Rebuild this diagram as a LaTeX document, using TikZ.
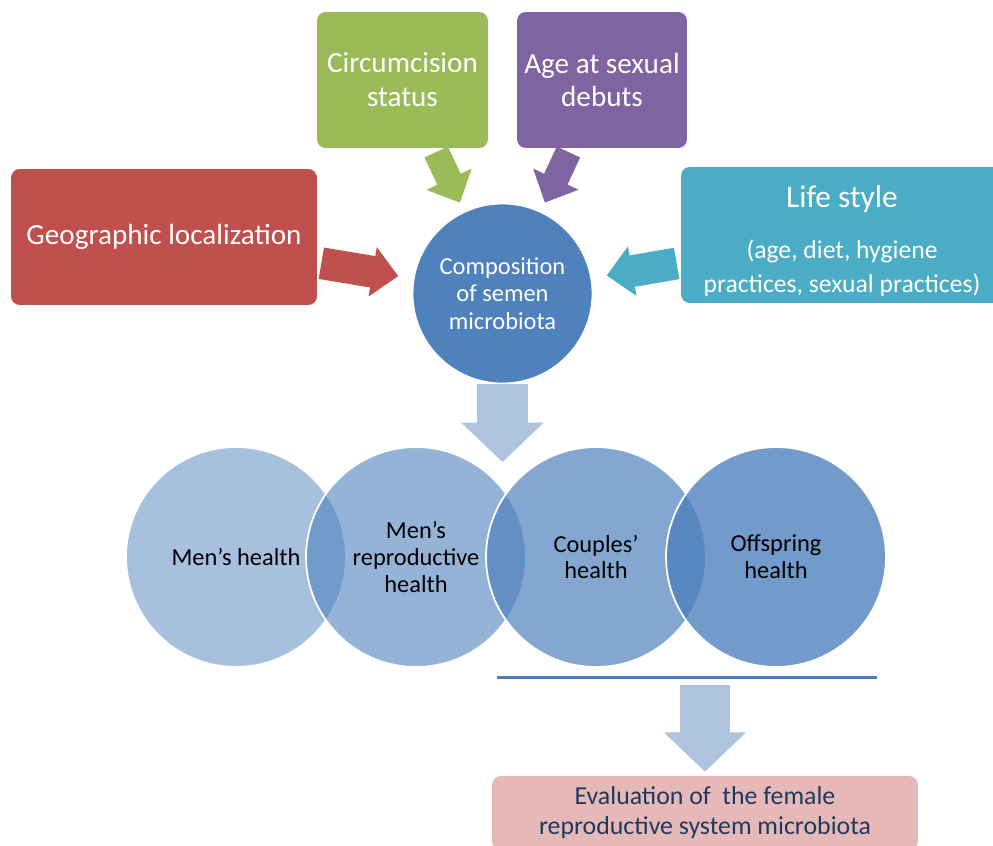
\documentclass[tikz,border=0pt]{standalone}
\usepackage{fontspec}
\setmainfont{Carlito}
\usetikzlibrary{arrows.meta}

\definecolor{geoRed}{HTML}{C0504D}
\definecolor{circGreen}{HTML}{9BBB59}
\definecolor{debutPurple}{HTML}{8064A2}
\definecolor{lifeTeal}{HTML}{4BACC6}
\definecolor{semBlue}{HTML}{4F81BD}
\definecolor{downBlue}{HTML}{AFC2DE}
\definecolor{lineBlue}{HTML}{4A7EBB}
\definecolor{evalPink}{HTML}{E6B9B8}
\definecolor{evalNavy}{HTML}{1F3A5F}

\begin{document}
\begin{tikzpicture}[x=0.02cm, y=-0.02cm, inner sep=0pt,
    myBox/.style={rounded corners=5pt, minimum height=2.72cm, align=center, text=white,
      font=\fontsize{16.6}{19.3}\selectfont},
    myCir/.style={circle, minimum size=3.6cm, draw=white, line width=1pt, fill=semBlue,
      align=center, text=white, font=\fontsize{13.9}{15.6}\selectfont},
    healthCir/.style={circle, minimum size=4.4cm, draw=white, line width=1pt, fill=semBlue,
      fill opacity=#1, text opacity=1, align=center, font=\fontsize{13.9}{15.3}\selectfont},
    myArr/.style={line width=#1, -{Triangle[length=14.7pt, width=28.4pt, line width=0.6pt]},
      shorten <=2.3pt},
    downArr/.style={draw=downBlue, line width=28.6pt,
      -{Triangle[length=22.4pt, width=46.8pt, line width=0.6pt]}}]
    \useasboundingbox (0,0) rectangle (993,845);

    \node[myBox, fill=geoRed, minimum width=6.12cm] (geo) at (164,237) {Geographic localization};
    \node[myBox, fill=circGreen, minimum width=3.42cm] (circ) at (402.5,80) {Circumcision\\status};
    \node[myBox, fill=debutPurple, minimum width=3.4cm] (debut) at (602,80) {Age at sexual\\debuts};
    \node[myBox, fill=lifeTeal, minimum width=6.44cm, font=\fontsize{14.6}{19.3}\selectfont] (life) at (842,235)
      {\rule{0pt}{8pt}\\[-8pt]{\fontsize{17.9}{21}\selectfont Life style}\\[10pt](age, diet, hygiene\\practices, sexual practices)};

    \node[myCir] (semen) at (502.5,293.5) {Composition\\of semen\\microbiota};

    \draw[myArr=18.1pt, geoRed, shorten >=8.5pt] (geo) -- (semen);
    \draw[myArr=14.7pt, circGreen, shorten >=5.4pt] (circ) -- (semen);
    \draw[myArr=14.7pt, debutPurple, shorten >=5.4pt] (debut) -- (semen);
    \draw[myArr=18.1pt, lifeTeal, shorten >=8.5pt] (life) -- (semen);

    \coordinate (join) at (502.5,462);
    \draw[downArr] (semen) -- (join);

    \node[healthCir=0.5] (men) at (236,557) {Men’s health};
    \node[healthCir=0.6] (menRep) at (416,557) {Men’s\\reproductive\\health};
    \node[healthCir=0.7] (couple) at (596,557) {Couples’\\health};
    \node[healthCir=0.8] (offspring) at (776,557) {Offspring\\health};

    \coordinate (lineL) at (497,677);
    \coordinate (lineR) at (877,677);
    \draw[lineBlue, line width=1.7pt] (lineL) -- (lineR);

    \node[fill=evalPink, rounded corners=5pt, minimum width=8.52cm, minimum height=1.48cm, align=center,
      text=evalNavy, font=\fontsize{14.7}{17}\selectfont] (eval) at (705,813)
      {Evaluation of\ \ the female\\reproductive system microbiota};
    \draw[downArr, shorten <=4.5pt, shorten >=2.3pt] (lineL -| eval) -- (eval);
\end{tikzpicture}
\end{document}
